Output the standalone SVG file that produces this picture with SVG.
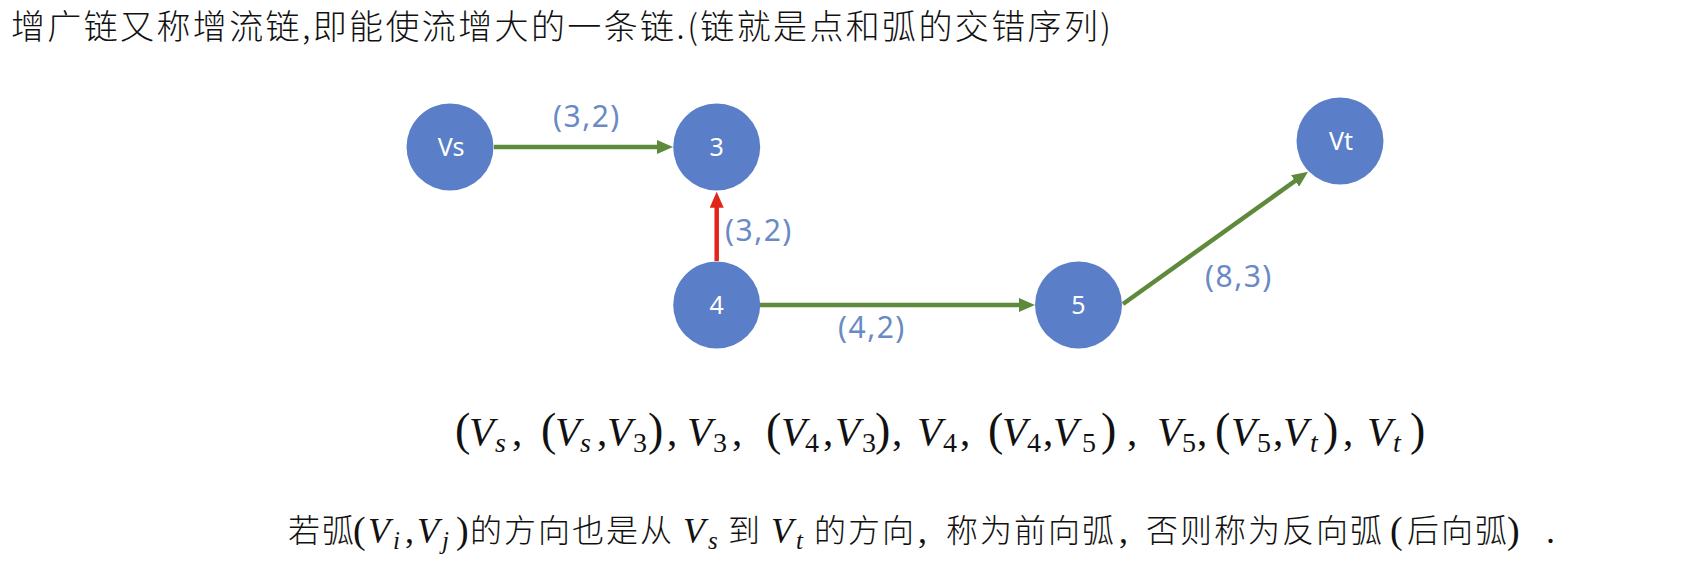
<svg xmlns="http://www.w3.org/2000/svg" width="1708" height="568" viewBox="0 0 1708 568">
<style>
.node{fill:#5A7EC8}
.nl{fill:#FFFFFF;font-family:"Noto Sans","Open Sans",sans-serif;font-size:25px;text-anchor:middle}
.el{fill:#6A8AC6;font-family:"Noto Sans","Open Sans",sans-serif;font-size:30px;letter-spacing:1.5px}
.g{stroke:#5E8A3C;stroke-width:4.5;fill:none}
.r{stroke:#E0261B;stroke-width:4.5;fill:none}
.cjk{font-family:"Noto Sans CJK SC","Noto Sans CJK JP",sans-serif;font-weight:300;fill:#111111}
.m{font-family:"Liberation Serif","DejaVu Serif",serif;fill:#111111}
.it{font-style:italic}
</style>
<defs>
<marker id="ag" markerUnits="userSpaceOnUse" markerWidth="16" markerHeight="14" refX="6" refY="7" orient="auto"><path d="M0,0 L16,7 L0,14 z" fill="#5E8A3C"/></marker>
<marker id="ar" markerUnits="userSpaceOnUse" markerWidth="16" markerHeight="14" refX="6" refY="7" orient="auto"><path d="M0,0 L16,7 L0,14 z" fill="#E0261B"/></marker>
</defs>
<rect width="1708" height="568" fill="#FFFFFF"/>

<text class="cjk" x="11" y="39" font-size="34" textLength="1100" lengthAdjust="spacing">增广链又称增流链,即能使流增大的一条链.(链就是点和弧的交错序列)</text>

<g id="connectors">
<line class="g" x1="494" y1="147" x2="663" y2="147" marker-end="url(#ag)"/>
<line class="r" x1="716.7" y1="261" x2="716.7" y2="201.7" marker-end="url(#ar)"/>
<line class="g" x1="760" y1="305" x2="1025" y2="305" marker-end="url(#ag)"/>
<line class="g" x1="1123" y1="304" x2="1299.9" y2="177.5" marker-end="url(#ag)"/>
<text class="el" x="553" y="127">(3,2)</text>
<text class="el" x="725" y="241">(3,2)</text>
<text class="el" x="838" y="338">(4,2)</text>
<text class="el" x="1205" y="287">(8,3)</text>
</g>

<g id="node-vs"><circle class="node" cx="450" cy="147" r="43.5"/><text class="nl" x="451" y="156">Vs</text></g>
<g id="node-3"><circle class="node" cx="716.7" cy="147" r="43.5"/><text class="nl" x="716.7" y="156">3</text></g>
<g id="node-4"><circle class="node" cx="716.7" cy="305" r="43.5"/><text class="nl" x="716.7" y="314">4</text></g>
<g id="node-5"><circle class="node" cx="1078.5" cy="305" r="43.5"/><text class="nl" x="1078.5" y="314">5</text></g>
<g id="node-vt"><circle class="node" cx="1340" cy="141" r="43.5"/><text class="nl" x="1341" y="150">Vt</text></g>

<g id="sequence" class="m">
<text font-size="46" y="445"><tspan x="455">(</tspan><tspan x="541">(</tspan><tspan x="648">)</tspan><tspan x="766">(</tspan><tspan x="875">)</tspan><tspan x="988">(</tspan><tspan x="1101">)</tspan><tspan x="1215">(</tspan><tspan x="1323">)</tspan><tspan x="1410">)</tspan></text>
<text font-size="41" y="445" class="it"><tspan x="469">V</tspan><tspan x="555">V</tspan><tspan x="607">V</tspan><tspan x="687">V</tspan><tspan x="781">V</tspan><tspan x="835">V</tspan><tspan x="917">V</tspan><tspan x="1002">V</tspan><tspan x="1053">V</tspan><tspan x="1157">V</tspan><tspan x="1231">V</tspan><tspan x="1283">V</tspan><tspan x="1367">V</tspan></text>
<text font-size="41" y="445"><tspan x="512">,</tspan><tspan x="597">,</tspan><tspan x="667">,</tspan><tspan x="732">,</tspan><tspan x="823">,</tspan><tspan x="892">,</tspan><tspan x="960">,</tspan><tspan x="1043">,</tspan><tspan x="1127">,</tspan><tspan x="1197">,</tspan><tspan x="1273">,</tspan><tspan x="1343">,</tspan></text>
<text font-size="28" y="452"><tspan x="495" class="it">s</tspan><tspan x="580" class="it">s</tspan><tspan x="633">3</tspan><tspan x="713">3</tspan><tspan x="805">4</tspan><tspan x="862">3</tspan><tspan x="943">4</tspan><tspan x="1027">4</tspan><tspan x="1082">5</tspan><tspan x="1182">5</tspan><tspan x="1257">5</tspan><tspan x="1310" class="it">t</tspan><tspan x="1393" class="it">t</tspan></text>
</g>

<g id="note">
<text class="cjk" font-size="32" letter-spacing="2" y="542"><tspan x="288">若弧</tspan><tspan x="470">的方向也是从</tspan><tspan x="728">到</tspan><tspan x="814">的方向</tspan><tspan x="946">称为前向弧</tspan><tspan x="1146">否则称为反向弧</tspan><tspan x="1407">后向弧</tspan></text>
<text class="m" font-size="38" y="543"><tspan x="353">(</tspan><tspan x="456">)</tspan><tspan x="1390">(</tspan><tspan x="1507">)</tspan></text>
<text class="m" font-size="36" y="543"><tspan x="405">,</tspan><tspan x="918">,</tspan><tspan x="1119">,</tspan><tspan x="1546">.</tspan></text>
<text class="m it" font-size="36" y="543"><tspan x="368">V</tspan><tspan x="417">V</tspan><tspan x="683">V</tspan><tspan x="771">V</tspan></text>
<text class="m it" font-size="25" y="549"><tspan x="393">i</tspan><tspan x="442">j</tspan><tspan x="708">s</tspan><tspan x="796">t</tspan></text>
</g>
</svg>
